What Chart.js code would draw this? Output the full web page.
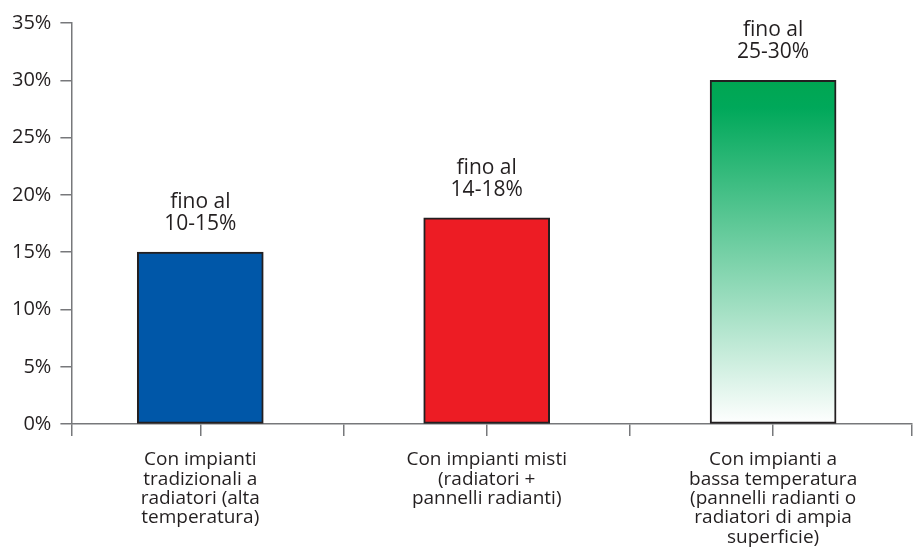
<!DOCTYPE html>
<html>
<head>
<meta charset="utf-8">
<script src="https://cdn.jsdelivr.net/npm/chart.js@4/dist/chart.umd.min.js"></script>
<style>
  html, body { margin: 0; padding: 0; background: #fff; }
  #wrap { width: 917px; height: 549px; }
</style>
</head>
<body>
<div id="wrap"><canvas id="risparmioChart" width="917" height="549"></canvas></div>
<script>
// categories (wrapped the same way as the original picture)
const categories = [
  ['Con impianti', 'tradizionali a', 'radiatori (alta', 'temperatura)'],
  ['Con impianti misti', '(radiatori +', 'pannelli radianti)'],
  ['Con impianti a', 'bassa temperatura', '(pannelli radianti o', 'radiatori di ampia', 'superficie)'],
];
const savingsMax = [15, 18, 30];
const savingsLabels = [
  ['fino al', '10-15%'],
  ['fino al', '14-18%'],
  ['fino al', '25-30%'],
];
const yTicks = [0, 5, 10, 15, 20, 25, 30, 35];

const TEXT = '#231f20';
const AXIS = '#77787b';
const FONT = "'Open Sans', 'DejaVu Sans', sans-serif";

/* the green bar fades from full green at the top to white at the axis */
const barFill = ctx => {
  const i = ctx.dataIndex;
  if (i === 0) return '#0057a8';
  if (i === 1) return '#ed1c24';
  const { chart } = ctx;
  if (!chart.chartArea) return '#00a651';
  const y = chart.scales.y;
  const g = chart.ctx.createLinearGradient(0, y.getPixelForValue(savingsMax[i]), 0, y.getPixelForValue(0));
  g.addColorStop(0, '#00a651');
  g.addColorStop(0.08, '#00a85a');
  g.addColorStop(1, '#ffffff');
  return g;
};

/* two line text above every bar */
const barTextPlugin = {
  id: 'barText',
  afterDatasetsDraw(chart) {
    const { ctx } = chart;
    const meta = chart.getDatasetMeta(0);
    ctx.save();
    ctx.font = '21px ' + FONT;
    ctx.fillStyle = TEXT;
    ctx.textAlign = 'center';
    ctx.textBaseline = 'alphabetic';
    meta.data.forEach((bar, i) => {
      const lines = savingsLabels[i] || [];
      lines.forEach((txt, k) => {
        ctx.fillText(txt, bar.x, bar.y - 22 - (lines.length - 1 - k) * 22);
      });
    });
    ctx.restore();
  },
};

const xMin = 0.05;
const xMax = 2.985;

new Chart(document.getElementById('risparmioChart').getContext('2d'), {
  type: 'bar',
  data: {
    datasets: [{
      data: savingsMax.map((v, i) => ({ x: i + 0.5, y: v })),
      backgroundColor: barFill,
      borderColor: TEXT,
      borderWidth: 2,
      borderSkipped: false,
      barThickness: 126,
    }],
  },
  options: {
    responsive: false,
    animation: false,
    layout: { padding: { top: 23, right: 5, bottom: -12, left: 3 } },
    plugins: {
      legend: { display: false },
      tooltip: { enabled: false },
    },
    scales: {
      x: {
        type: 'linear',
        offset: false,
        min: xMin,
        max: xMax,
        afterBuildTicks(scale) {
          // tick marks at the y axis, at every bar centre, between bars and at the end
          const vals = [xMin];
          for (let v = 0.5; v < categories.length; v += 0.5) vals.push(v);
          vals.push(xMax);
          scale.ticks = vals.map(value => ({ value }));
        },
        afterFit(scale) {
          // end ticks have no label, no need to reserve room for one
          scale.paddingLeft = 0;
          scale.paddingRight = 0;
        },
        ticks: {
          autoSkip: false,
          maxRotation: 0,
          padding: 14,
          color: TEXT,
          font: { family: FONT, size: 19, lineHeight: 1.02 },
          callback(value) {
            return value % 1 === 0.5 ? categories[Math.floor(value)] : '';
          },
        },
        grid: {
          offset: false,
          drawOnChartArea: false,
          drawTicks: true,
          tickLength: 12,
          color: AXIS,
          lineWidth: 1.5,
        },
        border: { color: AXIS, width: 1.5 },
      },
      y: {
        min: 0,
        max: 35,
        afterBuildTicks(scale) {
          scale.ticks = yTicks.map(value => ({ value }));
        },
        ticks: {
          padding: 9,
          color: TEXT,
          font: { family: FONT, size: 20 },
          callback: v => v + '%',
        },
        grid: {
          drawOnChartArea: false,
          tickLength: 11,
          color: AXIS,
          lineWidth: 1.5,
        },
        border: { color: AXIS, width: 1.5 },
      },
    },
  },
  plugins: [barTextPlugin],
});
</script>
</body>
</html>
